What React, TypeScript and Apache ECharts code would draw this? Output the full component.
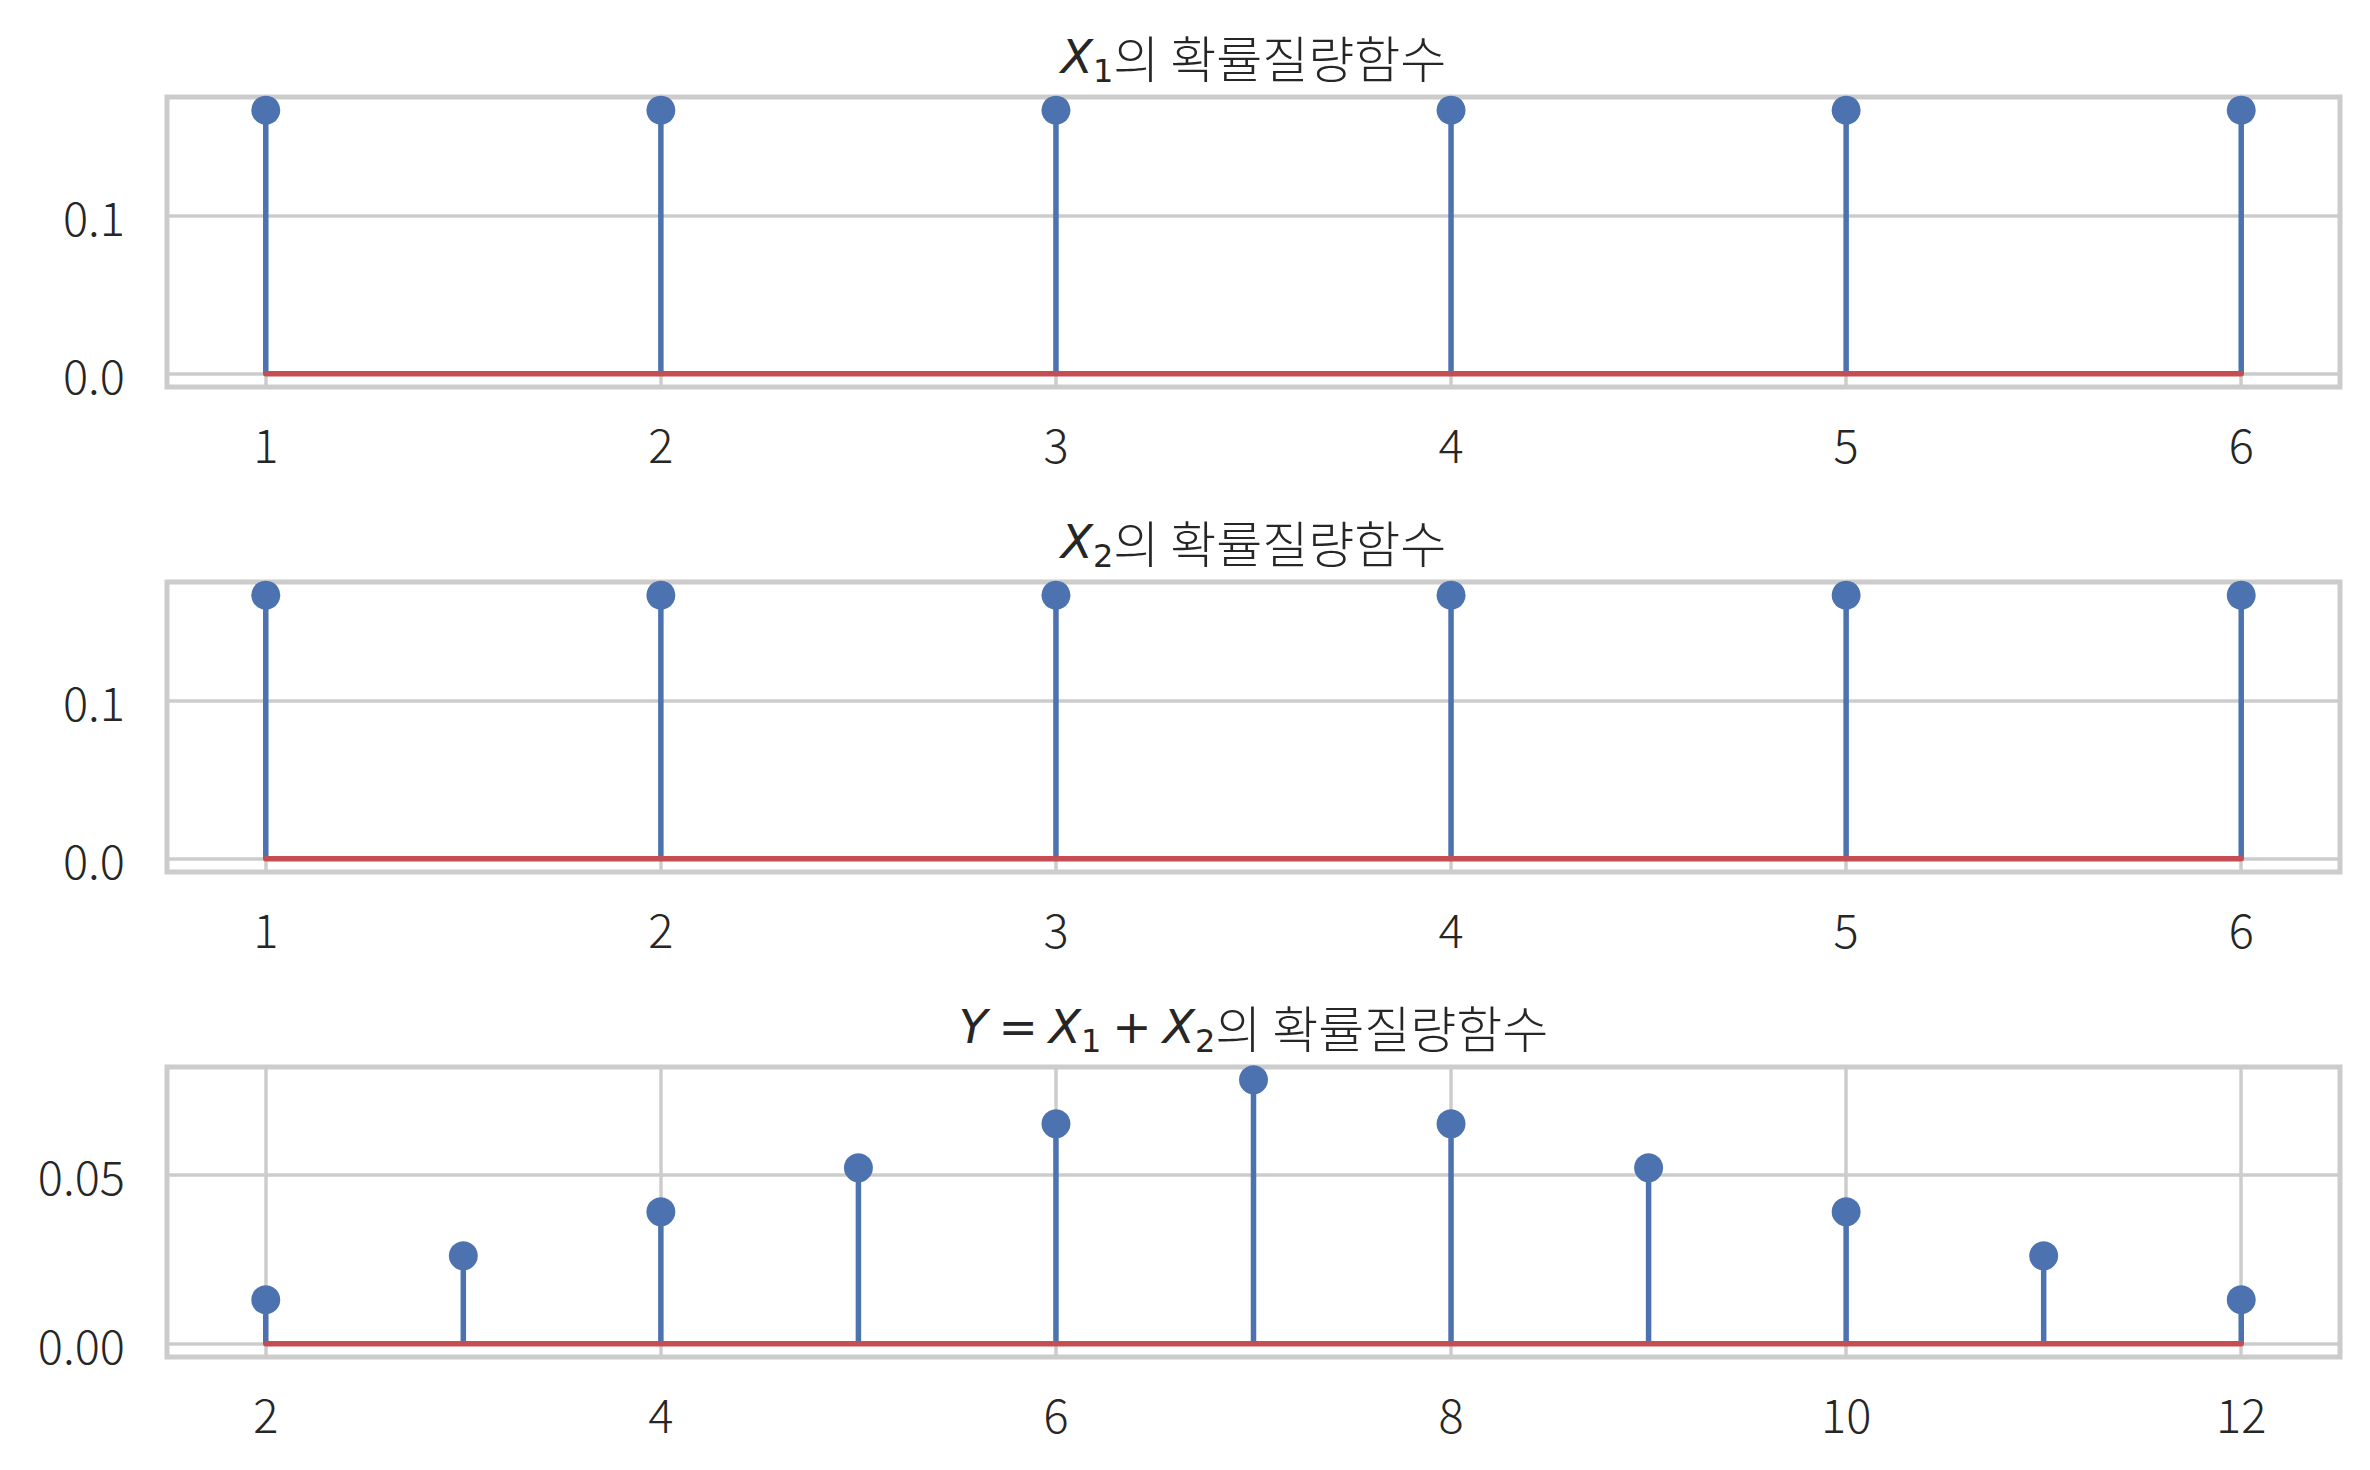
import React, { useEffect, useRef } from "react";
import * as echarts from "echarts";

// ---- data ----
const xDie = [1, 2, 3, 4, 5, 6];
const pX1 = [0.1667, 0.1667, 0.1667, 0.1667, 0.1667, 0.1667];
const pX2 = [0.1667, 0.1667, 0.1667, 0.1667, 0.1667, 0.1667];
const xSum = [2, 3, 4, 5, 6, 7, 8, 9, 10, 11, 12];
const pSum = [0.013, 0.026, 0.039, 0.052, 0.065, 0.078, 0.065, 0.052, 0.039, 0.026, 0.013];
const xTicksDie = [1, 2, 3, 4, 5, 6];
const yTicksDie = [0, 0.1];
const xTicksSum = [2, 4, 6, 8, 10, 12];
const yTicksSum = [0, 0.05];

const BLUE = "#4C72B0";
const RED = "#C44E52";
const GRIDC = "#cccccc";
const TXT = "#262626";
const KFONT = "'Noto Sans CJK KR', 'Noto Sans', sans-serif";
const MFONT = "'DejaVu Sans', sans-serif";

const GL = 167;
const GW = 2173;
const GH = 290;
const TOPS = [97, 582, 1067];
const FS = 47;
const TFS = 50;

function makeTitle(text: string, cy: number) {
  return {
    type: "text",
    x: GL + GW / 2,
    y: cy,
    style: {
      text,
      align: "center",
      verticalAlign: "middle",
      fill: TXT,
      fontFamily: KFONT,
      fontSize: TFS,
      rich: {
        k: { fontFamily: KFONT, fontWeight: 300, fontSize: TFS, fill: TXT, lineHeight: 62, verticalAlign: "middle" },
        m: { fontFamily: MFONT, fontStyle: "italic", fontSize: 47, fill: TXT, lineHeight: 62, verticalAlign: "middle" },
        o: { fontFamily: MFONT, fontSize: 47, fill: TXT, lineHeight: 62, verticalAlign: "middle", padding: [0, 11, 0, 11] },
        s: { fontFamily: MFONT, fontSize: 32, fill: TXT, lineHeight: 26, verticalAlign: "bottom" },
      },
    },
  };
}

export default function App() {
  const ref = useRef<HTMLDivElement>(null);
  useEffect(() => {
    if (!ref.current) return;
    const chart = echarts.init(ref.current, null, { renderer: "svg" });

    const panels = [
      { xs: xDie, ys: pX1, xmin: 0.75, xmax: 6.25, ymin: -0.00833, ymax: 0.175, xt: xTicksDie, yt: yTicksDie, dec: 1 },
      { xs: xDie, ys: pX2, xmin: 0.75, xmax: 6.25, ymin: -0.00833, ymax: 0.175, xt: xTicksDie, yt: yTicksDie, dec: 1 },
      { xs: xSum, ys: pSum, xmin: 1.5, xmax: 12.5, ymin: -0.0039, ymax: 0.0818, xt: xTicksSum, yt: yTicksSum, dec: 2 },
    ];

    const grid = panels.map((_, i) => ({
      left: GL,
      top: TOPS[i],
      width: GW,
      height: GH,
      show: true,
      borderColor: GRIDC,
      borderWidth: 5,
      backgroundColor: "transparent",
    }));

    const xAxis = panels.map((p, i) => ({
      type: "value",
      gridIndex: i,
      min: p.xmin,
      max: p.xmax,
      axisLine: { show: false },
      axisTick: { show: false, customValues: p.xt },
      axisLabel: {
        customValues: p.xt,
        color: TXT,
        fontSize: FS,
        fontWeight: 300,
        fontFamily: KFONT,
        margin: 32,
        formatter: (v: number) => String(Math.round(v)),
      },
      splitLine: { show: true, lineStyle: { color: GRIDC, width: 3.5 } },
    }));

    const yAxis = panels.map((p, i) => ({
      type: "value",
      gridIndex: i,
      min: p.ymin,
      max: p.ymax,
      axisLine: { show: false },
      axisTick: { show: false, customValues: p.yt },
      axisLabel: {
        customValues: p.yt,
        color: TXT,
        fontSize: FS,
        fontWeight: 300,
        fontFamily: KFONT,
        margin: 42,
        formatter: (v: number) => v.toFixed(p.dec),
      },
      splitLine: { show: true, lineStyle: { color: GRIDC, width: 3.5 } },
    }));

    const series: any[] = [];
    panels.forEach((p, i) => {
      series.push({
        type: "custom",
        xAxisIndex: i,
        yAxisIndex: i,
        clip: false,
        z: 3,
        data: p.xs.map((x, j) => [x, p.ys[j]]),
        encode: { x: 0, y: 1 },
        renderItem: (params: any, api: any) => {
          const x = api.value(0);
          const y = api.value(1);
          const top = api.coord([x, y]);
          const bot = api.coord([x, 0]);
          return {
            type: "group",
            children: [
              {
                type: "line",
                shape: { x1: bot[0], y1: bot[1], x2: top[0], y2: top[1] },
                style: { stroke: BLUE, lineWidth: 5.5 },
              },
              {
                type: "circle",
                shape: { cx: top[0], cy: top[1], r: 14.5 },
                style: { fill: BLUE },
              },
            ],
          };
        },
      });
      series.push({
        type: "line",
        xAxisIndex: i,
        yAxisIndex: i,
        z: 4,
        symbol: "none",
        data: [
          [p.xs[0], 0],
          [p.xs[p.xs.length - 1], 0],
        ],
        lineStyle: { color: RED, width: 5.5, cap: "round" },
      });
    });

    chart.setOption({
      animation: false,
      backgroundColor: "#ffffff",
      grid,
      xAxis,
      yAxis,
      series,
      graphic: [
        makeTitle("{m|X}{s|1}{k|의 확률질량함수}", 56),
        makeTitle("{m|X}{s|2}{k|의 확률질량함수}", 541),
        makeTitle("{m|Y}{o|=}{m|X}{s|1}{o|+}{m|X}{s|2}{k|의 확률질량함수}", 1026),
      ],
    });
    return () => chart.dispose();
  }, []);

  return (
    <div
      ref={ref}
      style={{ position: "fixed", left: 0, top: 0, width: 2370, height: 1470, background: "#fff" }}
    />
  );
}
